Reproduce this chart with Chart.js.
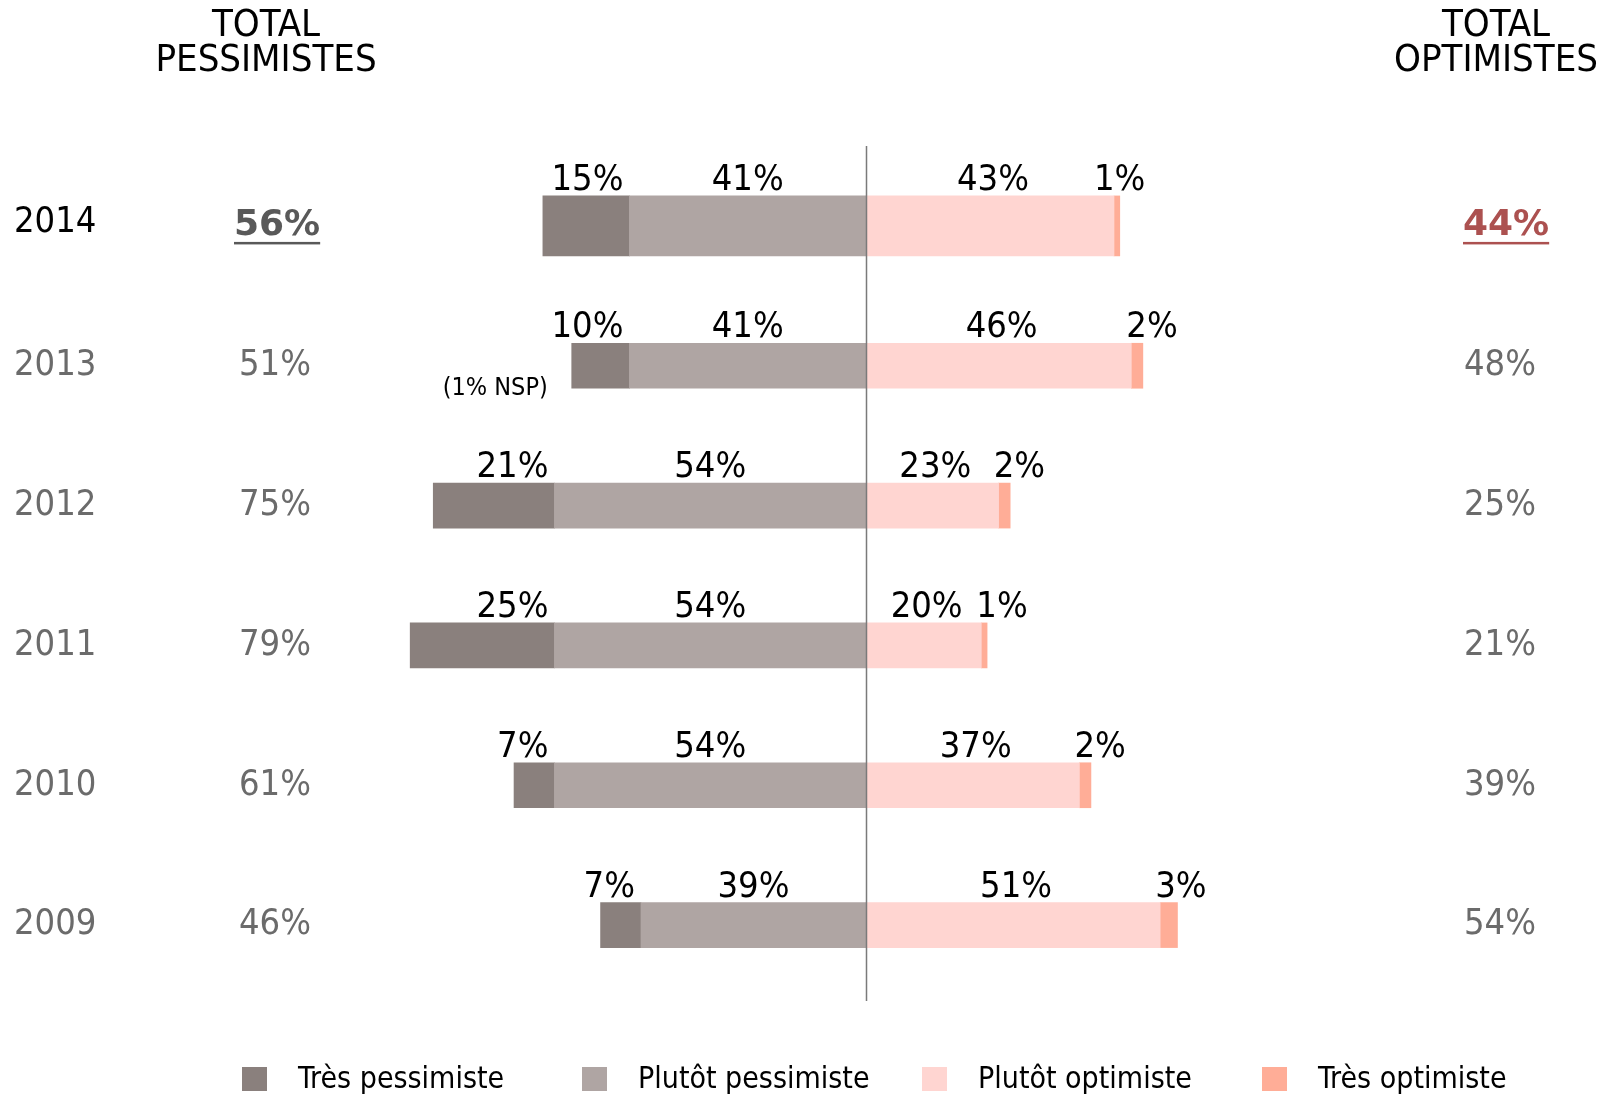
<!DOCTYPE html>
<html lang="fr">
<head>
<meta charset="utf-8">
<script src="https://cdn.jsdelivr.net/npm/chart.js@4/dist/chart.umd.min.js"></script>
<style>
  html, body { margin: 0; padding: 0; background: #ffffff; }
  #wrap { width: 1609px; height: 1096px; }
</style>
</head>
<body>
<div id="wrap"><canvas id="graphique"></canvas></div>
<script>
// Années (la première est mise en avant)
const annees = ["2014", "2013", "2012", "2011", "2010", "2009"];

// Répartition des réponses en %
const tresPessimiste = [15, 10, 21, 25, 7, 7];
const plutotPessimiste = [41, 41, 54, 54, 54, 39];
const plutotOptimiste = [43, 46, 23, 20, 37, 51];
const tresOptimiste = [1, 2, 2, 1, 2, 3];

// Totaux affichés en colonnes
const totalPessimistes = [56, 51, 75, 79, 61, 46];
const totalOptimistes = [44, 48, 25, 21, 39, 54];

// Notes sous les barres
const notes = ["", "(1% NSP)", "", "", "", ""];

const COND = "'DejaVu Sans Condensed', 'DejaVu Sans', sans-serif";
const GRIS = "#6b6b6b";

// Séries dans l'ordre d'empilement (du centre vers l'extérieur)
const series = [
  { key: "pp", label: "Plutôt pessimiste", values: plutotPessimiste, sens: -1, color: "#afa5a3" },
  { key: "tp", label: "Très pessimiste", values: tresPessimiste, sens: -1, color: "#8a807d" },
  { key: "po", label: "Plutôt optimiste", values: plutotOptimiste, sens: 1, color: "#ffd5d1" },
  { key: "to", label: "Très optimiste", values: tresOptimiste, sens: 1, color: "#ffad97" },
];
const ordreLegende = ["tp", "pp", "po", "to"];

// Une barre plus épaisse pour l'année en cours, donc deux datasets par série
const datasets = [];
series.forEach((s) => {
  datasets.push({
    label: s.label,
    key: s.key,
    data: s.values.map((v, i) => (i === 0 ? s.sens * v : null)),
    backgroundColor: s.color,
    barThickness: 60,
    stack: "a",
  });
  datasets.push({
    label: s.label,
    key: s.key,
    data: s.values.map((v, i) => (i === 0 ? null : s.sens * v)),
    backgroundColor: s.color,
    barThickness: 45,
    stack: "a",
  });
});

function barre(chart, key, i) {
  const idx = chart.data.datasets.findIndex((d) => d.key === key && d.data[i] !== null);
  return chart.getDatasetMeta(idx).data[i];
}

const textes = {
  id: "textes",
  afterDatasetsDraw(chart) {
    const ctx = chart.ctx;
    const xs = chart.scales.x;
    const ys = chart.scales.y;
    const area = chart.chartArea;

    // ligne centrale
    const x0 = Math.round(xs.getPixelForValue(0)) + 0.5;
    ctx.save();
    ctx.strokeStyle = "#7a7a7a";
    ctx.lineWidth = 1.5;
    ctx.beginPath();
    ctx.moveTo(x0, area.top - 10);
    ctx.lineTo(x0, area.bottom + 6);
    ctx.stroke();

    // en-têtes
    ctx.fillStyle = "#000";
    ctx.font = "38px " + COND;
    ctx.textAlign = "center";
    ctx.textBaseline = "alphabetic";
    ctx.fillText("TOTAL", 266, 36);
    ctx.fillText("PESSIMISTES", 266, 71);
    ctx.fillText("TOTAL", 1496, 36);
    ctx.fillText("OPTIMISTES", 1496, 71);

    annees.forEach((annee, i) => {
      const y = ys.getPixelForValue(i);
      const enAvant = i === 0;

      // année
      ctx.font = "36px " + COND;
      ctx.textAlign = "left";
      ctx.textBaseline = "middle";
      ctx.fillStyle = enAvant ? "#000" : GRIS;
      ctx.fillText(annee, 14, enAvant ? y - 3 : y);

      // totaux
      if (enAvant) {
        ctx.font = "bold 36px 'DejaVu Sans', sans-serif";
        [[totalPessimistes[i], 234, "#595959"], [totalOptimistes[i], 1463, "#ac5150"]].forEach(([v, x, c]) => {
          const t = v + "%";
          const w = ctx.measureText(t).width;
          ctx.fillStyle = c;
          ctx.fillText(t, x, y);
          ctx.fillRect(x, y + 16, w, 2.5);
        });
      } else {
        ctx.fillStyle = GRIS;
        ctx.fillText(totalPessimistes[i] + "%", 239, y);
        ctx.fillText(totalOptimistes[i] + "%", 1464, y);
      }

      // valeurs au-dessus des segments
      const pp = barre(chart, "pp", i);
      const tp = barre(chart, "tp", i);
      const po = barre(chart, "po", i);
      const to = barre(chart, "to", i);
      const haut = pp.y - pp.height / 2;
      const yTexte = haut - 6;
      ctx.font = "36px " + COND;
      ctx.fillStyle = "#000";
      ctx.textBaseline = "alphabetic";

      ctx.textAlign = "center";
      ctx.fillText(plutotPessimiste[i] + "%", (pp.x + pp.base) / 2, yTexte);
      ctx.fillText(plutotOptimiste[i] + "%", (po.x + po.base) / 2 + 3, yTexte);
      ctx.textAlign = "right";
      ctx.fillText(tresPessimiste[i] + "%", tp.base - 6, yTexte);
      ctx.textAlign = "left";
      ctx.fillText(tresOptimiste[i] + "%", to.base - (enAvant ? 20 : 5), yTexte);

      if (notes[i]) {
        ctx.font = "25px " + COND;
        ctx.textAlign = "right";
        ctx.textBaseline = "middle";
        ctx.fillText(notes[i], tp.x - 24, pp.y + pp.height / 2);
      }
    });

    // légende
    ctx.font = "30px " + COND;
    ctx.textAlign = "left";
    ctx.textBaseline = "middle";
    ordreLegende.forEach((key, k) => {
      const s = series.find((d) => d.key === key);
      const bx = 242 + k * 340;
      ctx.fillStyle = s.color;
      ctx.fillRect(bx, 1067, 25, 24);
      ctx.fillStyle = "#000";
      ctx.fillText(s.label, bx + 56, 1080);
    });
    ctx.restore();
  },
};

new Chart(document.getElementById("graphique"), {
  type: "bar",
  data: { labels: annees, datasets: datasets },
  options: {
    indexAxis: "y",
    responsive: true,
    maintainAspectRatio: false,
    animation: false,
    layout: { padding: { top: 156, bottom: 101, left: 0, right: 0 } },
    plugins: {
      legend: { display: false },
      tooltip: { enabled: false },
    },
    scales: {
      x: { stacked: true, display: false, min: -150.1, max: 128.8 },
      y: { stacked: true, display: false },
    },
  },
  plugins: [textes],
});
</script>
</body>
</html>
